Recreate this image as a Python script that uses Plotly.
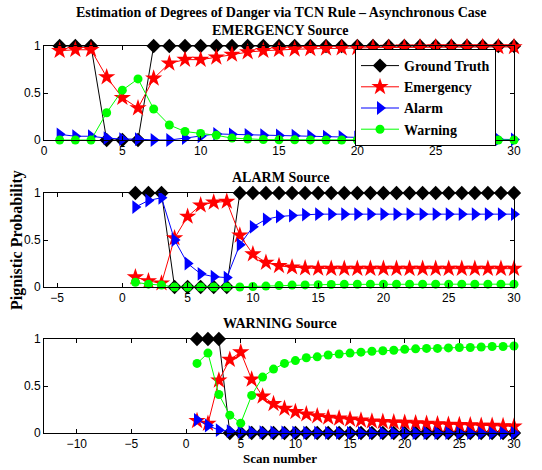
import plotly.graph_objects as go

scans = list(range(1, 31))

# EMERGENCY source
em_truth = [1, 1, 1, 0, 0, 0] + [1] * 24
em_emergency = [0.95, 0.96, 0.96, 0.67, 0.45, 0.34, 0.655, 0.815, 0.855, 0.855,
                0.88, 0.91, 0.935, 0.95, 0.96, 0.965, 0.97, 0.975, 0.978, 0.98,
                0.982, 0.984, 0.986, 0.987, 0.988, 0.989, 0.99, 0.99, 0.99, 0.99]
em_alarm = [0.06, 0.04, 0.04, 0.02, 0.01, 0.01, 0.0, 0.0, 0.02, 0.04,
            0.065, 0.06, 0.055, 0.05, 0.048, 0.045, 0.04, 0.036, 0.032, 0.028,
            0.025, 0.022, 0.019, 0.016, 0.014, 0.012, 0.01, 0.008, 0.006, 0.005]
em_warning = [0.0, 0.0, 0.0, 0.29, 0.53, 0.65, 0.33, 0.16, 0.09, 0.07,
              0.05, 0.02, 0.01, 0.005, 0.003, 0.002, 0.001, 0.0, 0.0, 0.0,
              0.0, 0.0, 0.0, 0.0, 0.0, 0.0, 0.0, 0.0, 0.0, 0.0]

# ALARM source
al_truth = [1, 1, 1, 0, 0, 0, 0, 0] + [1] * 22
al_emergency = [0.105, 0.064, 0.04, 0.52, 0.75, 0.87, 0.9, 0.91, 0.55, 0.35,
                0.26, 0.225, 0.21, 0.2, 0.197, 0.195, 0.195, 0.195, 0.195, 0.195,
                0.195, 0.195, 0.195, 0.195, 0.195, 0.195, 0.195, 0.195, 0.195, 0.195]
al_alarm = [0.85, 0.92, 0.95, 0.5, 0.25, 0.14, 0.11, 0.1, 0.45, 0.64,
            0.72, 0.75, 0.76, 0.77, 0.775, 0.775, 0.775, 0.775, 0.775, 0.775,
            0.775, 0.775, 0.775, 0.775, 0.775, 0.775, 0.775, 0.775, 0.775, 0.775]
al_warning = [0.05, 0.03, 0.02, 0.0, 0.0, 0.0, 0.0, 0.0, 0.0, 0.005,
              0.01, 0.015, 0.02, 0.022, 0.025, 0.027, 0.028, 0.029, 0.03, 0.03,
              0.03, 0.03, 0.03, 0.03, 0.03, 0.03, 0.03, 0.03, 0.03, 0.03]

# WARNING source
wa_truth = [1, 1, 1] + [0] * 27
wa_emergency = [0.13, 0.1, 0.56, 0.78, 0.86, 0.57, 0.39, 0.31, 0.26, 0.225,
                0.2, 0.18, 0.165, 0.155, 0.145, 0.135, 0.125, 0.12, 0.115, 0.11,
                0.105, 0.1, 0.095, 0.09, 0.088, 0.085, 0.08, 0.078, 0.075, 0.07]
wa_alarm = [0.14, 0.08, 0.03, 0.02, 0.01, 0.01, 0.008, 0.006, 0.005, 0.004,
            0.003, 0.003, 0.002, 0.002, 0.002, 0.001, 0.001, 0.001, 0.001, 0.001,
            0.0, 0.0, 0.0, 0.0, 0.0, 0.0, 0.0, 0.0, 0.0, 0.0]
wa_warning = [0.74, 0.85, 0.41, 0.19, 0.105, 0.4, 0.595, 0.68, 0.74, 0.77,
              0.8, 0.81, 0.83, 0.84, 0.85, 0.86, 0.87, 0.875, 0.88, 0.89,
              0.895, 0.9, 0.9, 0.905, 0.91, 0.91, 0.915, 0.92, 0.92, 0.925]

panels = [
    ("EMERGENCY Source", em_truth, em_emergency, em_alarm, em_warning, [0, 30], [0, 5, 10, 15, 20, 25, 30]),
    ("ALARM Source", al_truth, al_emergency, al_alarm, al_warning, [-6, 30], [-5, 0, 5, 10, 15, 20, 25, 30]),
    ("WARNING Source", wa_truth, wa_emergency, wa_alarm, wa_warning, [-13, 30], [-10, -5, 0, 5, 10, 15, 20, 25, 30]),
]

W, H = 542, 470
ref_left, ref_right = 44, 514
panel_tops_ref = [46, 193, 339]
panel_h = 94
ref_bottom = panel_tops_ref[-1] + panel_h

ml = ref_left
mr = W - ref_right
mt = panel_tops_ref[0]
mb = H - ref_bottom
pw = W - ml - mr
ph = H - mt - mb

def py(ref_y):
    return (H - mb - ref_y) / ph

def px(ref_x):
    return (ref_x - ml) / pw

fig = go.Figure()
series_style = [
    ("Ground Truth", "black", "diamond", 11),
    ("Emergency", "red", "star", 13),
    ("Alarm", "blue", "triangle-right", 12),
    ("Warning", "#00ff00", "circle", 9),
]

serif = "Liberation Serif"
sans = "Liberation Sans"

for i, (title, tr, e, a, w, xr, xt) in enumerate(panels):
    ax = "" if i == 0 else str(i + 1)
    for (name, col, sym, sz), ys in zip(series_style, [tr, e, a, w]):
        fig.add_trace(go.Scatter(
            x=scans, y=ys, mode="lines+markers", name="<b>" + name + "</b>",
            line=dict(color=col, width=1),
            marker=dict(color=col, symbol=sym, size=sz, line=dict(width=0)),
            cliponaxis=False, showlegend=(i == 0),
            xaxis="x" + ax, yaxis="y" + ax,
        ))
    top = panel_tops_ref[i]
    d = [py(top + panel_h), py(top)]
    axcommon = dict(showline=True, linecolor="black", linewidth=1, mirror="ticks",
                    ticks="inside", ticklen=4, tickcolor="black", showgrid=False,
                    zeroline=False, tickfont=dict(family=sans, size=12, color="black"))
    fig.layout["xaxis" + ax] = dict(domain=[0, 1], range=xr, tickvals=xt,
                                    anchor="y" + ax, **axcommon)
    fig.layout["yaxis" + ax] = dict(domain=d, range=[0, 1], tickvals=[0, 0.5, 1],
                                    ticktext=["0", "0.5", "1"], anchor="x" + ax, **axcommon)
    fig.add_annotation(text="<b>" + title + "</b>", xref="paper", yref="paper",
                       x=px(280), y=py(top - 16),
                       showarrow=False, font=dict(family=serif, size=14, color="black"),
                       xanchor="center", yanchor="middle")

fig.add_annotation(text="<b>Estimation of Degrees of Danger via TCN Rule \u2013 Asynchronous Case</b>",
                   xref="paper", yref="paper", x=px(281), y=py(12),
                   showarrow=False, font=dict(family=serif, size=14, color="black"),
                   xanchor="center", yanchor="middle")
fig.add_annotation(text="<b>Pignistic Probability</b>", xref="paper", yref="paper",
                   x=px(17), y=py(240), textangle=-90,
                   showarrow=False, font=dict(family=serif, size=16, color="black"),
                   xanchor="center", yanchor="middle")
fig.add_annotation(text="<b>Scan number</b>", xref="paper", yref="paper",
                   x=px(280), y=py(458),
                   showarrow=False, font=dict(family=serif, size=13, color="black"),
                   xanchor="center", yanchor="middle")

fig.update_layout(
    width=W, height=H, margin=dict(l=ml, r=mr, t=mt, b=mb),
    paper_bgcolor="white", plot_bgcolor="white", showlegend=True,
    legend=dict(x=px(355), y=py(49), xanchor="left", yanchor="top",
                bgcolor="white", bordercolor="black", borderwidth=1,
                font=dict(family=serif, size=14, color="black"), itemwidth=38,
                tracegroupgap=0),
)

fig.write_html("out.html", config={"displayModeBar": False},
               post_script="document.body.style.margin='0';document.body.style.overflow='hidden';")
